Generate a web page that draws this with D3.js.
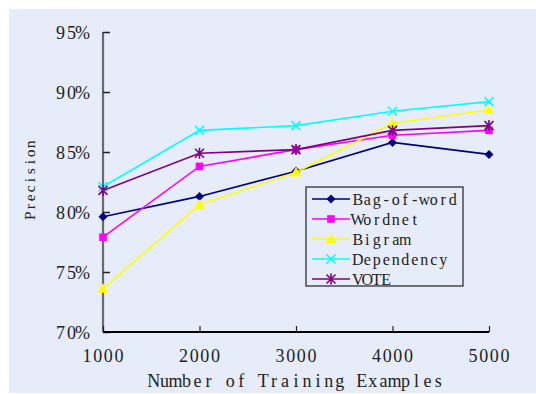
<!DOCTYPE html>
<html>
<head>
<meta charset="utf-8">
<script src="https://cdn.jsdelivr.net/npm/d3@7"></script>
<style>
  html, body { margin: 0; padding: 0; background: #ffffff; }
  svg { display: block; }
  text { font-family: "Liberation Serif", "DejaVu Serif", serif; fill: #222; }
</style>
</head>
<body>
<svg id="chart" width="536" height="394"></svg>
<script>
// Training set sizes on the x axis
const trainingSizes = [1000, 2000, 3000, 4000, 5000];

// Precision (%) per method
const bagOfWord  = [79.6, 81.3, 83.4, 85.8, 84.8];
const wordnet    = [77.9, 83.8, 85.2, 86.4, 86.8];
const bigram     = [73.6, 80.6, 83.3, 87.4, 88.5];
const dependency = [82.1, 86.8, 87.2, 88.4, 89.2];
const vote       = [81.8, 84.9, 85.2, 86.8, 87.2];

const yTicks = [70, 75, 80, 85, 90, 95];
const seriesNames = ["Bag-of-word", "Wordnet", "Bigram", "Dependency", "VOTE"];

const series = [
  { name: seriesNames[0], values: bagOfWord,  color: "#000080", marker: "diamond" },
  { name: seriesNames[1], values: wordnet,    color: "#ff00ff", marker: "square" },
  { name: seriesNames[2], values: bigram,     color: "#ffff00", marker: "triangle" },
  { name: seriesNames[3], values: dependency, color: "#00ffff", marker: "cross" },
  { name: seriesNames[4], values: vote,       color: "#800080", marker: "star" }
];

const svg = d3.select("#chart");

// Text laid out on a fixed character grid (serif glyphs, monospaced advance).
// anchor: "start" | "middle" | "end" refers to the whole string.
function gridText(parent, str, x0, y0, advance, size, anchor) {
  const chars = Array.from(str);
  const total = chars.length * advance;
  const left = anchor === "middle" ? x0 - total / 2 : anchor === "end" ? x0 - total : x0;
  const xs = chars.map((c, i) => (left + (i + 0.5) * advance).toFixed(2));
  return parent.append("text")
    .attr("x", xs.join(" "))
    .attr("y", y0)
    .attr("text-anchor", "middle")
    .style("font-size", size + "px")
    .text(str);
}

// panel background
svg.append("rect")
  .attr("x", 9).attr("y", 9)
  .attr("width", 527).attr("height", 384)
  .attr("fill", "#e6ecfa");

const x = d3.scaleLinear().domain([1000, 5000]).range([103, 489]);
const y = d3.scaleLinear().domain([70, 95]).range([332, 32]);

// y axis: grey spine, short inward ticks
const yAxis = svg.append("g").attr("transform", `translate(${x(1000)},0)`)
  .call(d3.axisRight(y).tickValues(yTicks).tickSize(7).tickFormat(""));
yAxis.select(".domain").attr("stroke", "#6b6b6b").attr("stroke-width", 2.2).attr("d", `M0,${y(95)}V${y(70)}`);
yAxis.selectAll(".tick line").attr("stroke", "#222").attr("stroke-width", 1.5);

const yLabels = svg.append("g");
yTicks.forEach(d => gridText(yLabels, d + "%", 88, y(d) + 6.5, 11, 18, "end"));

// x axis: black spine, upward ticks
const xAxis = svg.append("g").attr("transform", `translate(0,${y(70)})`)
  .call(d3.axisTop(x).tickValues(trainingSizes).tickSize(6).tickFormat(""));
xAxis.select(".domain").attr("stroke", "#000").attr("stroke-width", 1.8).attr("d", `M${x(1000)},0H${x(5000)}`);
xAxis.selectAll(".tick line").attr("stroke", "#222").attr("stroke-width", 1.2);

const xLabels = svg.append("g");
trainingSizes.forEach(d => gridText(xLabels, String(d), x(d), 362, 10.6, 18, "middle"));

// axis titles
gridText(svg, "Number of Training Examples", 296, 387, 10.95, 18, "middle");

const yTitle = svg.append("g")
  .attr("transform", `translate(35,${(y(70) + y(95)) / 2 - 2}) rotate(-90)`);
gridText(yTitle, "Precision", 0, 0, 8.9, 15.5, "middle");

// marker shapes centred on (0,0)
function drawMarker(g, type, color) {
  if (type === "diamond") {
    g.append("path").attr("d", "M0,-4.5L4.5,0L0,4.5L-4.5,0Z").attr("fill", color);
  } else if (type === "square") {
    g.append("rect").attr("x", -3.8).attr("y", -3.8).attr("width", 7.6).attr("height", 7.6).attr("fill", color);
  } else if (type === "triangle") {
    g.append("path").attr("d", "M0,-5.5L5.5,4L-5.5,4Z").attr("fill", color);
  } else if (type === "cross") {
    g.append("path").attr("d", "M-4.5,-4.5L4.5,4.5M4.5,-4.5L-4.5,4.5")
      .attr("stroke", color).attr("stroke-width", 1.6).attr("fill", "none");
  } else if (type === "star") {
    g.append("path").attr("d", "M-4.5,-4.5L4.5,4.5M4.5,-4.5L-4.5,4.5M0,-5.5V5.5")
      .attr("stroke", color).attr("stroke-width", 1.6).attr("fill", "none");
  }
}

const line = d3.line()
  .x((d, i) => x(trainingSizes[i]))
  .y(d => y(d));

const plot = svg.append("g");
series.forEach(s => {
  plot.append("path")
    .attr("d", line(s.values))
    .attr("fill", "none")
    .attr("stroke", s.color)
    .attr("stroke-width", 1.6);
  s.values.forEach((v, i) => {
    const g = plot.append("g").attr("transform", `translate(${x(trainingSizes[i])},${y(v)})`);
    drawMarker(g, s.marker, s.color);
  });
});

// legend
const legend = svg.append("g");
legend.append("rect")
  .attr("x", 306).attr("y", 187)
  .attr("width", 157).attr("height", 99)
  .attr("fill", "#e6ecfa")
  .attr("stroke", "#222").attr("stroke-width", 1.2);

series.forEach((s, i) => {
  const cy = 199 + i * 20;
  legend.append("line")
    .attr("x1", 312).attr("x2", 350).attr("y1", cy).attr("y2", cy)
    .attr("stroke", s.color).attr("stroke-width", 1.6);
  const g = legend.append("g").attr("transform", `translate(331,${cy})`);
  drawMarker(g, s.marker, s.color);
  gridText(legend, s.name, 353, cy + 5.5, 9.5, 16, "start");
});
</script>
</body>
</html>
